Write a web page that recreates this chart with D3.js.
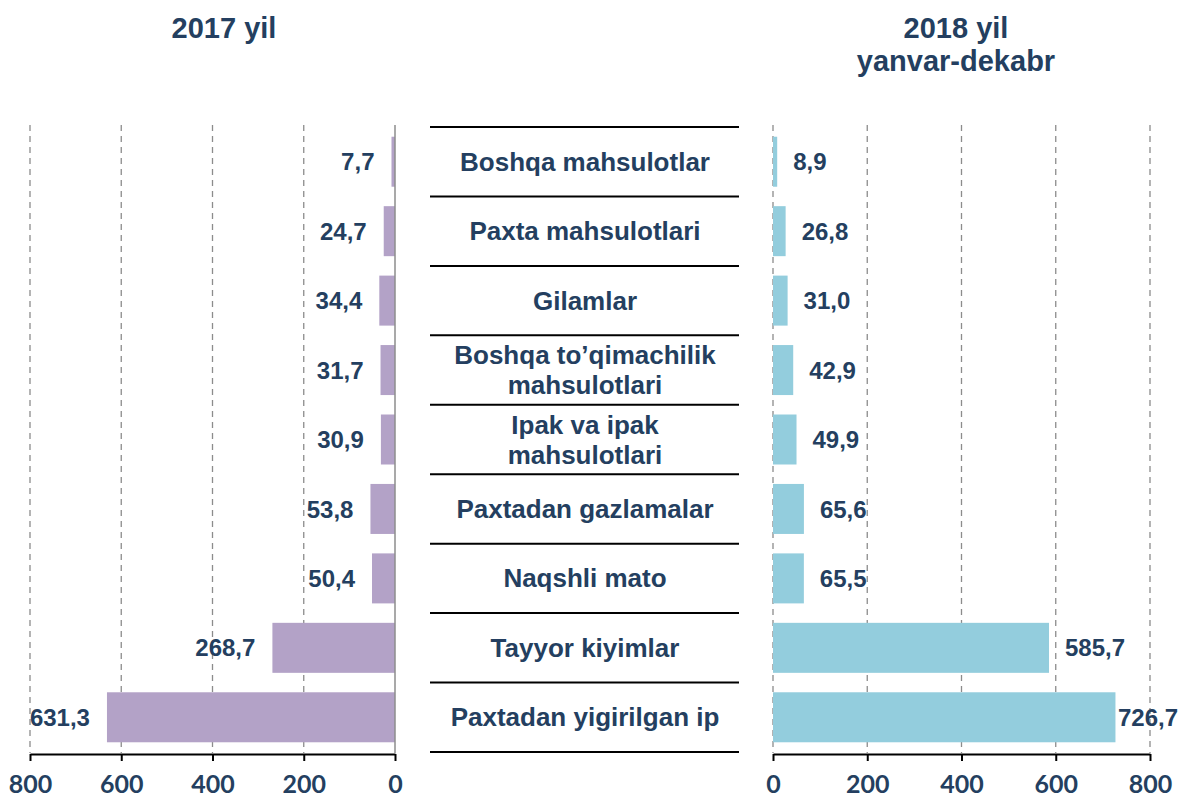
<!DOCTYPE html>
<html lang="en">
<head>
  <meta charset="UTF-8">
  <title>To'qimachilik eksporti 2017 / 2018</title>
  <script src="https://d3js.org/d3.v7.min.js"></script>
  <style>
    body { margin: 0; background: #fff; }
    svg { display: block; }
    .lbl { font-family: "Liberation Sans", Arial, sans-serif; font-weight: bold; fill: #243f60; }
    .num { font-family: Lato, "Open Sans", sans-serif; font-weight: bold; fill: #243f60; }
  </style>
</head>
<body>
<svg width="1179" height="798"></svg>
<script>
  // categories top to bottom (lines split with |)
  const categories = [
    "Boshqa mahsulotlar",
    "Paxta mahsulotlari",
    "Gilamlar",
    "Boshqa to’qimachilik|mahsulotlari",
    "Ipak va ipak|mahsulotlari",
    "Paxtadan gazlamalar",
    "Naqshli mato",
    "Tayyor kiyimlar",
    "Paxtadan yigirilgan ip"
  ];
  const values2017 = [7.7, 24.7, 34.4, 31.7, 30.9, 53.8, 50.4, 268.7, 631.3];
  const values2018 = [8.9, 26.8, 31.0, 42.9, 49.9, 65.6, 65.5, 585.7, 726.7];
  const tickValues = [0, 200, 400, 600, 800];
  const titleLeft = ["2017 yil"];
  const titleRight = ["2018 yil", "yanvar-dekabr"];

  const W = 1179;
  const svg = d3.select("svg");
  const ink = "#243f60";
  const fmt = v => d3.format(".1f")(v).replace(".", ",");

  const y = d3.scaleBand().domain(d3.range(categories.length))
    .range([127, 752]).paddingInner(0.28).paddingOuter(0.14);
  const xL = d3.scaleLinear().domain([0, 800]).range([395, 30]);
  const xR = d3.scaleLinear().domain([0, 800]).range([773, 1150]);

  // grid lines
  function grid(x, skipZero) {
    svg.append("g").selectAll("line")
      .data(tickValues.filter(t => !(skipZero && t === 0)))
      .join("line")
      .attr("x1", d => x(d)).attr("x2", d => x(d))
      .attr("y1", 125).attr("y2", 753)
      .attr("stroke", "#8c8c8c").attr("stroke-width", 1.3)
      .attr("stroke-dasharray", "6,5");
  }
  grid(xL, true);
  grid(xR, false);

  // left bars
  svg.append("g").selectAll("rect").data(values2017).join("rect")
    .attr("x", d => xL(d)).attr("width", d => xL(0) - xL(d))
    .attr("y", (d, i) => y(i)).attr("height", y.bandwidth())
    .attr("fill", "#b3a2c7");
  svg.append("line")
    .attr("x1", xL(0)).attr("x2", xL(0)).attr("y1", 125).attr("y2", 753)
    .attr("stroke", "#8c8c8c").attr("stroke-width", 1.5);

  // right bars
  svg.append("g").selectAll("rect").data(values2018).join("rect")
    .attr("x", xR(0)).attr("width", d => xR(d) - xR(0))
    .attr("y", (d, i) => y(i)).attr("height", y.bandwidth())
    .attr("fill", "#93cddd");

  // value labels
  svg.append("g").selectAll("text").data(values2017).join("text")
    .attr("class", "lbl")
    .attr("x", d => xL(d) - 17)
    .attr("y", (d, i) => y(i) + y.bandwidth() / 2)
    .attr("dy", "0.36em").attr("text-anchor", "end")
    .attr("font-size", 24).text(fmt);
  svg.append("g").selectAll("text").data(values2018).join("text")
    .attr("class", "lbl")
    .attr("y", (d, i) => y(i) + y.bandwidth() / 2)
    .attr("dy", "0.36em").attr("text-anchor", "start")
    .attr("font-size", 24).text(fmt)
    .attr("x", function(d) {
      // keep the label inside the picture
      return Math.min(xR(d) + 16, W - 1 - this.getComputedTextLength());
    });

  // axes
  function axis(x) {
    const g = svg.append("g").attr("transform", "translate(0,754)")
      .call(d3.axisBottom(x).tickValues(tickValues).tickSize(7).tickSizeOuter(0).tickFormat(d3.format("d")));
    g.select(".domain").attr("stroke", "#000").attr("stroke-width", 2);
    g.selectAll(".tick line").attr("stroke", "#000").attr("stroke-width", 2);
    g.selectAll(".tick text").attr("class", "num").attr("font-size", 25)
      .attr("fill", ink).attr("y", 21).attr("dy", "0.71em");
  }
  axis(xL);
  axis(xR);

  // category separators and labels
  const sepY = d3.range(categories.length + 1).map(i => y.range()[0] + i * y.step());
  svg.append("g").selectAll("line").data(sepY).join("line")
    .attr("x1", 430).attr("x2", 739).attr("y1", d => d).attr("y2", d => d)
    .attr("stroke", "#000").attr("stroke-width", 2);

  const cat = svg.append("g").selectAll("text").data(categories).join("text")
    .attr("class", "lbl").attr("font-size", 26).attr("text-anchor", "middle")
    .attr("x", 585)
    .attr("y", (d, i) => y(i) + y.bandwidth() / 2);
  cat.each(function(d) {
    const parts = d.split("|");
    const t = d3.select(this);
    parts.forEach((p, k) => {
      t.append("tspan").attr("x", 585)
        .attr("dy", k === 0 ? (0.35 - (parts.length - 1) * 0.575) + "em" : "1.15em")
        .text(p);
    });
  });

  // titles
  svg.append("g").selectAll("text").data(titleLeft).join("text")
    .attr("class", "lbl").attr("font-size", 29).attr("text-anchor", "middle")
    .attr("x", 224).attr("y", (d, i) => 38 + i * 33).text(d => d);
  svg.append("g").selectAll("text").data(titleRight).join("text")
    .attr("class", "lbl").attr("font-size", 29).attr("text-anchor", "middle")
    .attr("x", 956).attr("y", (d, i) => 38 + i * 33).text(d => d);
</script>
</body>
</html>
